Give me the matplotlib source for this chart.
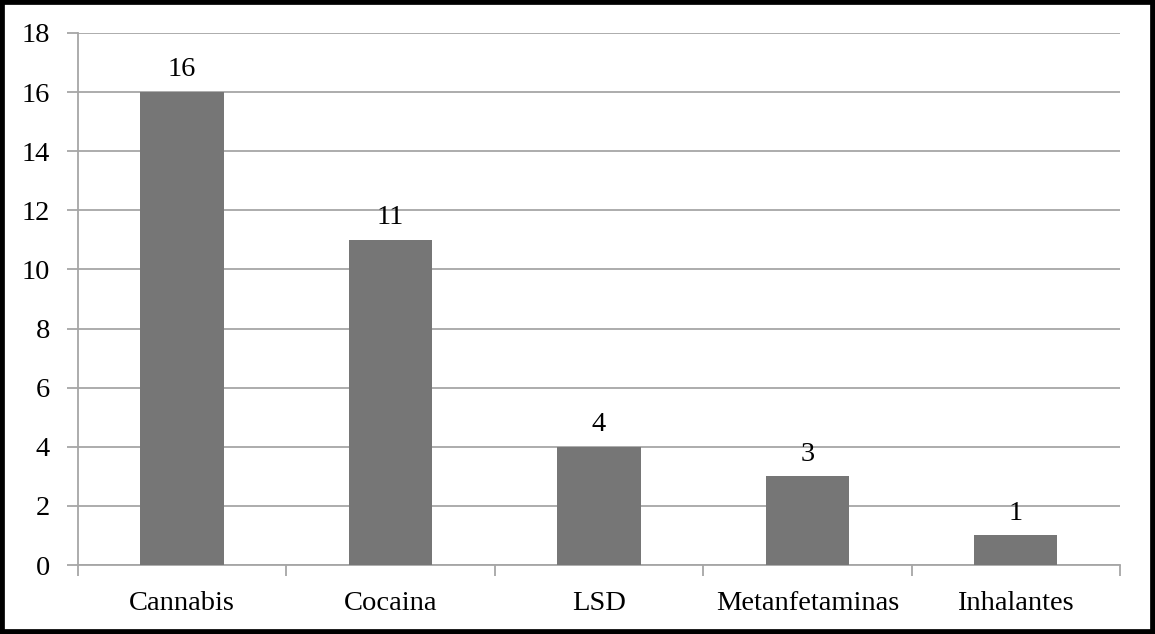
import matplotlib.pyplot as plt
from matplotlib.patches import Rectangle

categories = ['Cannabis', 'Cocaina', 'LSD', 'Metanfetaminas', 'Inhalantes']
counts = [16, 11, 4, 3, 1]
y_ticks = [0, 2, 4, 6, 8, 10, 12, 14, 16, 18]

plt.rcParams['font.family'] = ['Liberation Serif', 'DejaVu Serif']

fig = plt.figure(figsize=(11.55, 6.34), dpi=100)
ax = fig.add_axes([0.0675, 0.1088, 0.9022, 0.8392])

grid_color = '#a6a6a6'
fs = 20.5
x = list(range(len(categories)))
bars = ax.bar(x, counts, width=0.4, color='#767676', zorder=3)

for rect, val in zip(bars, counts):
    ax.annotate(str(val), (rect.get_x() + rect.get_width() / 2, rect.get_height()),
                xytext=(0, 7), textcoords='offset points',
                ha='center', va='bottom', fontsize=fs, color='black')

ax.set_xlim(-0.5, len(categories) - 0.5)
ax.set_ylim(0, 18)
ax.set_yticks(y_ticks)
ax.set_yticklabels([str(t) for t in y_ticks], fontsize=fs)
ax.yaxis.grid(True, color=grid_color, linewidth=1.3, zorder=0)

# category labels centred, tick marks on the category boundaries
ax.set_xticks(x)
ax.set_xticklabels(categories, fontsize=fs)
ax.set_xticks([i - 0.5 for i in range(len(categories) + 1)], minor=True)
ax.tick_params(axis='x', which='major', length=0, pad=19)
ax.tick_params(axis='x', which='minor', length=8, width=1.3, color=grid_color)
ax.tick_params(axis='y', length=8, width=1.3, color=grid_color, pad=12)

for side in ['top', 'right']:
    ax.spines[side].set_visible(False)
for side in ['left', 'bottom']:
    ax.spines[side].set_color(grid_color)
    ax.spines[side].set_linewidth(1.3)

# black frame round the whole chart
fig.patches.append(Rectangle((0, 0), 1, 1, transform=fig.transFigure,
                             fill=False, edgecolor='black', linewidth=7,
                             clip_on=False))

fig.savefig('out.png', dpi=100)
